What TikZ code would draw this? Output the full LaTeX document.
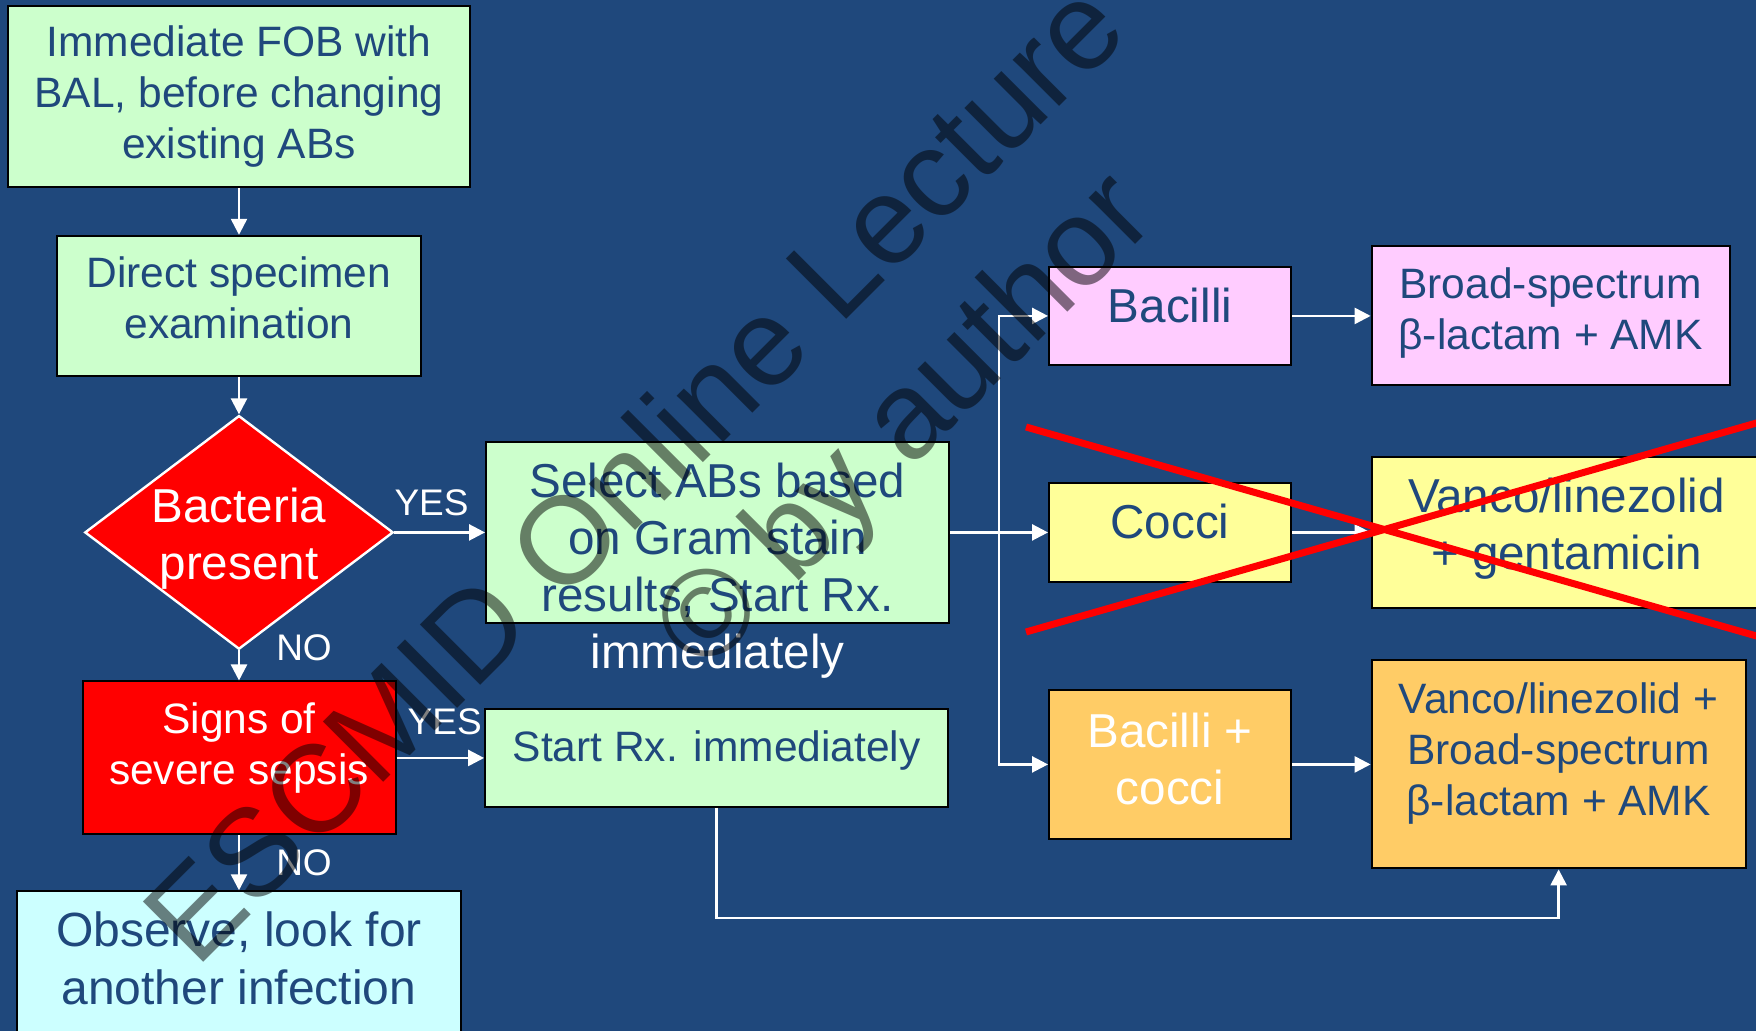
\documentclass[tikz,border=0pt]{standalone}
\usepackage{fontspec}
\setmainfont{Liberation Sans}
\usetikzlibrary{arrows.meta,positioning,shapes.geometric}
\definecolor{slide}{RGB}{31,72,124}
\definecolor{mint}{RGB}{204,255,204}
\definecolor{rose}{RGB}{255,204,255}
\definecolor{lemon}{RGB}{255,255,153}
\definecolor{peach}{RGB}{255,204,102}
\definecolor{ice}{RGB}{204,255,255}
\def\liftby{0pt}
\newcommand\rl[1]{\raisebox{\liftby}[\height][\depth]{#1}}

\begin{document}
\begin{tikzpicture}[
  x=0.5pt, y=-0.5pt,
  box/.style={draw=black,line width=1pt,rectangle,align=center,inner sep=2pt,
    text=slide,font=\fontsize{21.25pt}{25.5pt}\selectfont},
  big/.style={font=\fontsize{23.8pt}{28.5pt}\selectfont},
  lift/.style={execute at begin node={\def\liftby{#1}}},
  ask/.style={diamond,draw=white,line width=1.2pt,fill=red,text=white,align=center,
    inner sep=0pt,aspect=1.32,font=\fontsize{23.8pt}{28.5pt}\selectfont},
  yn/.style={text=white,inner sep=0pt,font=\fontsize{18.5pt}{22pt}\selectfont},
  link/.style={->,draw=white,line width=1.25pt},
  stamp/.style={text=black,opacity=0.5,rotate=45,anchor=base west,inner sep=0pt,
    font=\fontsize{62pt}{70pt}\selectfont},
  >={Triangle[length=8pt,width=8pt]}]
  \useasboundingbox (0,0) rectangle (1756,1031);
  \fill[slide] (0,0) rectangle (1756,1031);
  \clip (0,0) rectangle (1756,1031);

  \node[box,fill=mint,minimum width=231pt,minimum height=90.5pt] (FOB) at (239,96.5)
    {Immediate FOB with\\BAL, before changing\\existing ABs};
  \node[box,lift=3.9pt,fill=mint,minimum width=182pt,minimum height=70pt] (DSE) [below=23.4pt of FOB]
    {\rl{Direct specimen}\\\rl{examination}};
  \node[ask,lift=-3.2pt,minimum width=153.5pt,minimum height=116.5pt] (BP) [below=18.8pt of DSE]
    {\rl{Bacteria}\\\rl{present}};
  \node[box,lift=5pt,fill=red,text=white,minimum width=156.5pt,minimum height=76.5pt] (SS) [below=15pt of BP]
    {\rl{Signs of}\\\rl{severe sepsis}};
  \node[box,lift=5.6pt,fill=ice,minimum width=222pt,minimum height=78pt,font=\fontsize{24pt}{29pt}\selectfont]
    (OBS) [below=27.4pt of SS] {\rl{Observe, look for}\\\rl{another infection}};
  \node[box,big,lift=-3.9pt,fill=mint,minimum width=231.5pt,minimum height=90.5pt] (SEL) [right=45.3pt of BP]
    {\rl{Select ABs based}\\\rl{on Gram stain}\\\rl{results, Start Rx.}};
  \node[yn,font=\fontsize{23.8pt}{28.5pt}\selectfont] (IMM) [below=4.8pt of SEL] {immediately};
  \node[box,lift=3.9pt,fill=mint,minimum width=231.5pt,minimum height=49pt] (SRX) [right=43.8pt of SS]
    {\rl{Start Rx. immediately}};
  \node[box,big,lift=5.6pt,fill=lemon,minimum width=121pt,minimum height=49.5pt] (COC) [right=49pt of SEL]
    {\rl{Cocci}};
  \node[box,big,lift=5pt,fill=rose,minimum width=121pt,minimum height=49pt] (BAC) [above=58pt of COC]
    {\rl{Bacilli}};
  \node[box,big,lift=2.8pt,fill=peach,text=white,minimum width=121pt,minimum height=74.5pt] (BC) [below=53pt of COC]
    {\rl{Bacilli +}\\\rl{cocci}};
  \node[box,lift=1.7pt,fill=rose,minimum width=179pt,minimum height=69.5pt] (BSL) [right=39.3pt of BAC]
    {\rl{Broad-spectrum}\\\rl{β-lactam + AMK}};
  \node[box,big,lift=1.7pt,fill=lemon,minimum width=195pt,minimum height=75.5pt] (VG) [right=39.3pt of COC]
    {\rl{Vanco/linezolid}\\\rl{+ gentamicin}};
  \node[box,lift=5.3pt,fill=peach,minimum width=187pt,minimum height=104pt] (VBA) [right=39.3pt of BC]
    {\rl{Vanco/linezolid +}\\\rl{Broad-spectrum}\\\rl{β-lactam + AMK}};

  \draw[link] (FOB) -- (DSE);
  \draw[link] (DSE) -- (BP);
  \draw[link] (BP) -- node[yn,pos=.41,yshift=14.75pt] (Y1) {YES} (SEL);
  \draw[link] (BP) -- node[yn,pos=0,xshift=32.5pt,yshift=1.5pt] (N1) {NO} (SS);
  \draw[link] (SS) -- node[yn,pos=.55,yshift=18.25pt] (Y2) {YES} (SRX);
  \draw[link] (SS) -- node[yn,pos=.5,xshift=32.5pt] (N2) {NO} (OBS);
  \draw[link] (SEL) -- (COC);
  \coordinate (fork) at ([xshift=-24.5pt]COC.west);
  \draw[link] (fork) |- (BAC.west);
  \draw[link] (fork) |- (BC.west);
  \draw[link] (BAC) -- (BSL);
  \draw[link] (COC) -- (VG);
  \draw[link] (BC) -- (VBA);
  \draw[link] (SRX.south) -- ++(0pt,-55pt) -| (VBA.south);

  \draw[red,line width=3.5pt] (1026,427) -- (1760,637) (1026,632) -- (1760,422);

  \node[stamp] (WM1) at (196,970) {ESCMID Online Lecture};
  \node[stamp] (WM2) at (704,676) {© by author};
\end{tikzpicture}
\end{document}
